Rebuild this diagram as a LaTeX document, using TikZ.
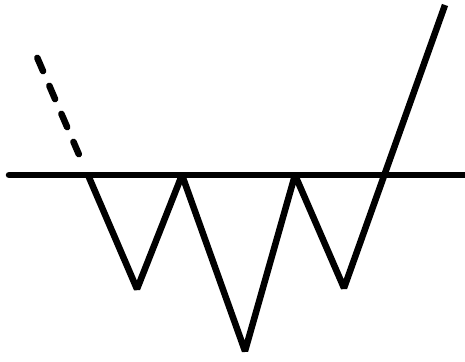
\documentclass[tikz,border=0pt]{standalone}
\begin{document}
\begin{tikzpicture}[x=1pt,y=-1pt,
  thick line/.style={line width=6.5pt,black},
  dash line/.style={line width=6.5pt,black,line cap=round,dash pattern=on 14.5pt off 16pt}]
\useasboundingbox (0,0) rectangle (465,361);
\coordinate (h0) at (9,175);
\coordinate (h1) at (466,175);
\coordinate (d0) at (37.3,57.8);
\coordinate (d1) at (78.8,154.2);
\coordinate (p0) at (88,175);
\coordinate (v1) at (137,289);
\coordinate (p1) at (182,175);
\coordinate (v2) at (245,351);
\coordinate (p2) at (295,175);
\coordinate (v3) at (344,288);
\coordinate (e) at (445,5);
\draw[thick line,line cap=round] (h0) -- (h1);
\draw[dash line] (d0) -- (d1);
\draw[thick line,line join=bevel] (p0) -- (v1) -- (p1) -- (v2) -- (p2) -- (v3) -- (e);
\end{tikzpicture}
\end{document}
